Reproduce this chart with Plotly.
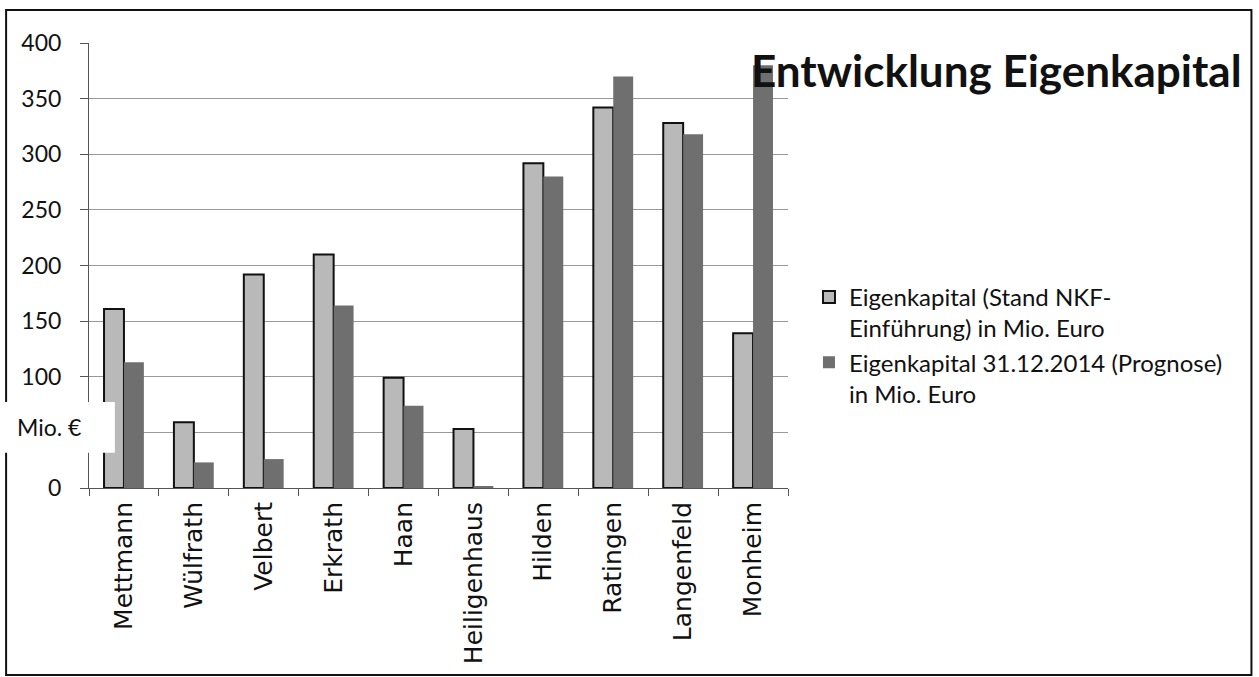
import plotly.graph_objects as go

staedte = ["Mettmann", "Wülfrath", "Velbert", "Erkrath", "Haan", "Heiligenhaus",
           "Hilden", "Ratingen", "Langenfeld", "Monheim"]
ek_nkf = [161, 59, 192, 210, 99, 53, 292, 342, 328, 139]
ek_2014 = [113, 23, 26, 164, 74, 1, 280, 370, 318, 380]

name_nkf = "Eigenkapital (Stand NKF-<br>Einführung) in Mio. Euro"
name_2014 = "Eigenkapital 31.12.2014 (Prognose)<br>in Mio. Euro"
y_ticks = [0, 50, 100, 150, 200, 250, 300, 350, 400]
y_ticklabels = ["0", "", "100", "150", "200", "250", "300", "350", "400"]

fig = go.Figure()
fig.add_trace(go.Bar(x=staedte, y=ek_nkf, name=name_nkf,
                     marker=dict(color="#b9b9b9", line=dict(color="#111111", width=2))))
fig.add_trace(go.Bar(x=staedte, y=ek_2014, name=name_2014,
                     marker=dict(color="#6f6f6f", line=dict(width=0))))

fig.update_layout(
    width=1259, height=677,
    margin=dict(l=89, r=471, t=43, b=189),
    paper_bgcolor="white", plot_bgcolor="white",
    barmode="group", bargap=0.43, bargroupgap=0,
    font=dict(family="Lato, DejaVu Sans, sans-serif", color="#111111"),
    legend=dict(x=1.03, y=0.479, xanchor="left", yanchor="top", valign="top",
                font=dict(size=24, family="Lato, sans-serif"), tracegroupgap=12,
                bgcolor="rgba(0,0,0,0)"),
    showlegend=True,
)
fig.update_yaxes(range=[0, 400], tickvals=y_ticks, ticktext=y_ticklabels,
                 showgrid=True, gridcolor="#999999",
                 gridwidth=1, showline=True, linecolor="#555555", linewidth=1,
                 ticks="outside", ticklen=8, tickcolor="#555555",
                 tickfont=dict(size=23, family="Lato, sans-serif"), ticklabelstandoff=14,
                 zeroline=False, automargin=False)
fig.update_xaxes(tickangle=-90, tickson="boundaries", ticks="outside", ticklen=7,
                 tickcolor="#555555", showline=True, linecolor="#555555", linewidth=1,
                 tickfont=dict(size=25, family="DejaVu Sans, sans-serif"),
                 ticklabelstandoff=3, automargin=False)

# outer frame
fig.add_shape(type="rect", xref="paper", yref="paper",
              x0=-0.1186, x1=1.663, y0=-0.42, y1=1.074,
              line=dict(color="#111111", width=2), fillcolor="rgba(0,0,0,0)", layer="above")
# white box for axis unit label
fig.add_shape(type="rect", xref="paper", yref="paper",
              x0=-0.14, x1=0.037, y0=0.079, y1=0.193,
              line=dict(width=0), fillcolor="white", layer="above")
fig.add_annotation(text="Mio. €", xref="paper", yref="paper", x=-0.057, y=0.136,
                   xanchor="center", yanchor="middle",
                   showarrow=False, font=dict(size=23, family="Lato, sans-serif"))
# title
fig.add_annotation(text="<b>Entwicklung Eigenkapital</b>", xref="paper", yref="paper",
                   x=1.298, y=0.939, xanchor="center", yanchor="middle", showarrow=False,
                   font=dict(size=44, family="Lato, sans-serif", color="#111111"))

fig.write_html("out.html", config={"displayModeBar": False},
               post_script="document.body.style.margin='0px';")
